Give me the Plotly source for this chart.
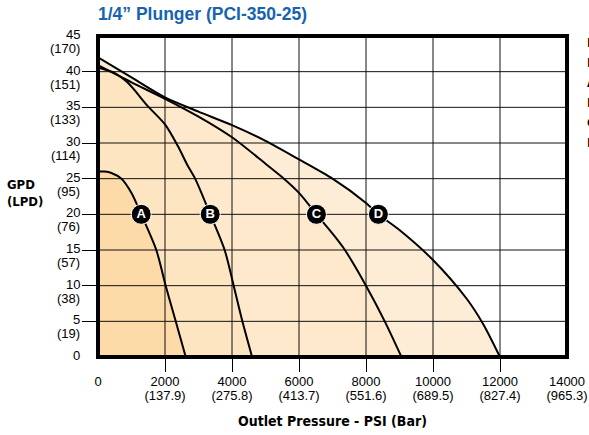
import plotly.graph_objects as go

# ---------------- data ----------------
psi_ticks = [0, 2000, 4000, 6000, 8000, 10000, 12000, 14000]
bar_ticks = ["", "(137.9)", "(275.8)", "(413.7)", "(551.6)", "(689.5)", "(827.4)", "(965.3)"]
gpd_ticks = [0, 5, 10, 15, 20, 25, 30, 35, 40, 45]
lpd_ticks = ["", "(19)", "(38)", "(57)", "(76)", "(95)", "(114)", "(133)", "(151)", "(170)"]

a_psi = [0, 200, 400, 700, 1000, 1290, 1740, 2020, 2320, 2620]
a_gpd = [26.0, 26.0, 25.8, 25.0, 23.0, 20.0, 15.0, 10.0, 5.0, 0.0]

b_psi = [0, 500, 900, 1480, 2000, 2380, 2680, 2900, 3350, 3780, 4050, 4310, 4600]
b_gpd = [40.6, 39.8, 38.4, 35.2, 32.6, 29.6, 26.8, 25.0, 20.0, 15.0, 10.0, 5.0, 0.0]

c_psi = [0, 1000, 2000, 3000, 4000, 5000, 5500, 6000, 6520, 7000, 7370, 8000, 8560, 9060]
c_gpd = [40.9, 38.5, 36.2, 33.7, 30.8, 27.1, 25.2, 23.0, 20.0, 17.3, 15.0, 10.0, 5.0, 0.0]

d_psi = [0, 1000, 2000, 3000, 4000, 5000, 6000, 7000, 8000, 8370, 9000, 10000, 11000, 11500, 12000]
d_gpd = [42.0, 39.2, 36.4, 34.4, 32.5, 30.3, 27.7, 25.0, 21.6, 20.0, 17.8, 13.6, 8.2, 4.6, 0.0]

curve_names = ["A", "B", "C", "D"]
label_psi = [1290, 3350, 6520, 8370]
label_gpd = [20, 20, 20, 20]

legend_lines = ["Motor", "RPM", "A", "B", "C", "D"]

x_range = [0, 14000]
y_range = [0, 45]

# ---------------- styling ----------------
fill_colors = {"D": "#feedd6", "C": "#fee9cc", "B": "#fee5c2", "A": "#fddba9"}
FONT = "Liberation Sans, Arial, sans-serif"
NARROW = "DejaVu Sans Condensed, Liberation Sans, sans-serif"

W, H = 589, 435
L, R, T, B = 98, 22, 36, 78
PW, PH = W - L - R, H - T - B

curves = {"A": (a_psi, a_gpd), "B": (b_psi, b_gpd), "C": (c_psi, c_gpd), "D": (d_psi, d_gpd)}

fig = go.Figure()

# fills (largest first)
for name in ["D", "C", "B", "A"]:
    xs, ys = curves[name]
    fig.add_trace(go.Scatter(x=xs, y=ys, mode="lines", fill="tozeroy",
                             fillcolor=fill_colors[name],
                             line=dict(width=0, shape="spline", smoothing=0.8),
                             hoverinfo="skip", showlegend=False))

# grid lines drawn over the fills
gx, gy = [], []
for v in psi_ticks[1:-1]:
    gx += [v, v, None]
    gy += [y_range[0], y_range[1], None]
for v in gpd_ticks[1:-1]:
    gx += [x_range[0], x_range[1], None]
    gy += [v, v, None]
fig.add_trace(go.Scatter(x=gx, y=gy, mode="lines", line=dict(color="#111111", width=1),
                         hoverinfo="skip", showlegend=False))

# curve lines
for name in ["D", "C", "B", "A"]:
    xs, ys = curves[name]
    fig.add_trace(go.Scatter(x=xs, y=ys, mode="lines",
                             line=dict(color="black", width=2, shape="spline", smoothing=0.8),
                             name=name, showlegend=False))

# curve labels
fig.add_trace(go.Scatter(x=label_psi, y=label_gpd, mode="markers+text", text=curve_names,
                         textposition="middle center",
                         textfont=dict(color="white", size=13, family=FONT, weight="bold"),
                         marker=dict(size=20, color="black", line=dict(color="white", width=1)),
                         hoverinfo="skip", showlegend=False))

# helper traces for the label axes
fig.add_trace(go.Scatter(x=[None], y=[None], xaxis="x2", yaxis="y", showlegend=False,
                         hoverinfo="skip"))
fig.add_trace(go.Scatter(x=[None], y=[None], xaxis="x3", yaxis="y", showlegend=False,
                         hoverinfo="skip"))

tick_font = dict(family=FONT, size=13, color="black")

fig.update_layout(
    width=W, height=H,
    margin=dict(l=L, r=R, t=T, b=B, pad=0, autoexpand=False),
    paper_bgcolor="white", plot_bgcolor="white",
    showlegend=False,
    title=dict(text="<b>1/4\u201d Plunger (PCI-350-25)</b>", x=0, xref="paper", xanchor="left",
               y=1 - 14 / H, yref="container", yanchor="middle", automargin=False,
               font=dict(family=FONT, size=17.5, color="#1664b0")),
    # tick dashes
    xaxis=dict(range=x_range, tickvals=psi_ticks[1:-1], ticks="outside", ticklen=14,
               tickwidth=1, tickcolor="black", showticklabels=False, showgrid=False,
               zeroline=False, showline=False, automargin=False, fixedrange=True),
    # PSI labels
    xaxis2=dict(range=x_range, overlaying="x", anchor="y", side="bottom",
                tickvals=psi_ticks, ticktext=[str(p) for p in psi_ticks], ticks="outside",
                ticklen=12, tickcolor="rgba(0,0,0,0)", tickfont=tick_font,
                showgrid=False, zeroline=False, showline=False, automargin=False,
                fixedrange=True),
    # Bar labels + axis title
    xaxis3=dict(range=x_range, overlaying="x", anchor="y", side="bottom",
                tickvals=psi_ticks, ticktext=bar_ticks, ticks="outside",
                ticklen=26, tickcolor="rgba(0,0,0,0)", tickfont=tick_font,
                showgrid=False, zeroline=False, showline=False, automargin=False,
                title=dict(text="<b>Outlet Pressure - PSI (Bar)</b>", standoff=14,
                           font=dict(family=NARROW, size=14, color="black")),
                fixedrange=True),
    yaxis=dict(range=y_range, tickvals=gpd_ticks[1:-1], ticks="outside", ticklen=15,
               tickwidth=1, tickcolor="black", showticklabels=False, showgrid=False,
               zeroline=False, showline=False, automargin=False, fixedrange=True),
)

# plot border
fig.add_shape(type="rect", xref="paper", yref="paper", x0=0, x1=1, y0=0, y1=1,
              line=dict(color="black", width=4), layer="above")

# y tick labels: GPD on the grid line, LPD just below
lab_x = (81.5 - L) / PW
for v, lpd in zip(gpd_ticks, lpd_ticks):
    fig.add_annotation(x=lab_x, xref="paper", y=v, yref="y", text=str(v), showarrow=False,
                       xanchor="right", yanchor="middle", yshift=1.5, font=tick_font)
    if lpd:
        fig.add_annotation(x=lab_x, xref="paper", y=v, yref="y", text=lpd, showarrow=False,
                           xanchor="right", yanchor="middle", yshift=-12.5, font=tick_font)

# y axis title
fig.add_annotation(x=(25 - L) / PW, xref="paper", y=(H - B - 193) / PH, yref="paper",
                   text="<b>GPD<br>(LPD)</b>", showarrow=False, xanchor="center", yanchor="middle",
                   align="left", font=dict(family=NARROW, size=13, color="black"))

# clipped legend text on the right edge
for i, t in enumerate(legend_lines):
    ypx = 42 + i * 20
    fig.add_annotation(x=(585 - L) / PW, xref="paper", y=(H - B - ypx) / PH, yref="paper",
                       text=f"<b>{t}</b>", showarrow=False, xanchor="left", yanchor="middle",
                       font=dict(family=NARROW, size=13, color="black"))

fig.write_html("out.html", config={"displayModeBar": False, "staticPlot": True},
               post_script="document.body.style.margin='0';document.body.style.overflow='hidden';")
